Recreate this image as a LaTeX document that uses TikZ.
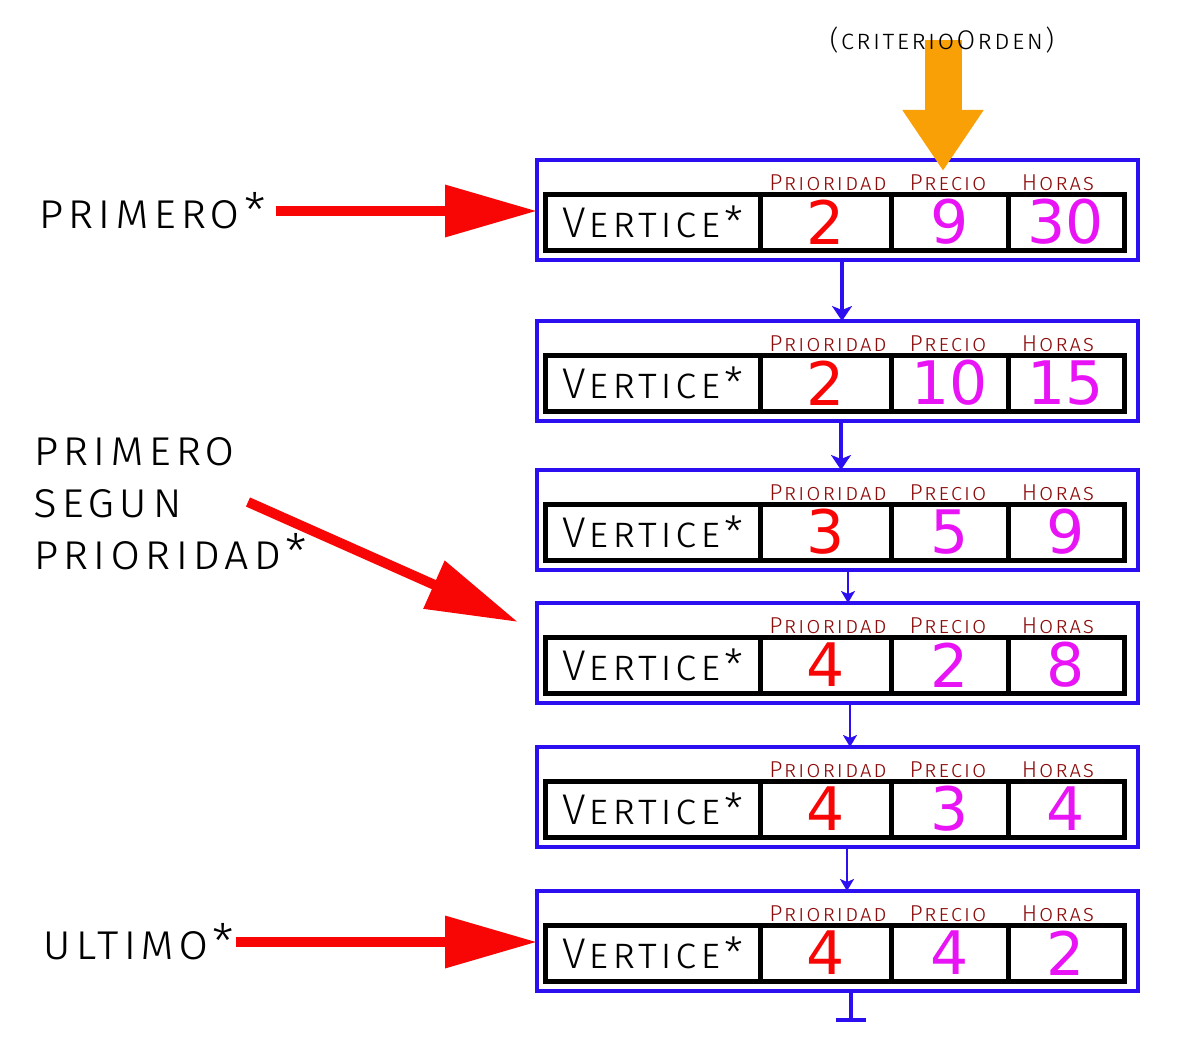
\documentclass[tikz,border=0pt]{standalone}
\usepackage{fontspec}
\newfontfamily\digf{DejaVu Sans}
\newfontfamily\scf{Fira Sans Light}[Letters=SmallCaps,LetterSpace=8]
\usetikzlibrary{arrows.meta}
\definecolor{qblue}{RGB}{43,15,240}
\definecolor{qred}{RGB}{248,5,5}
\definecolor{qmag}{RGB}{232,20,245}
\definecolor{qdred}{RGB}{140,12,12}
\definecolor{qorange}{RGB}{248,160,5}
\begin{document}
\begin{tikzpicture}[x=1pt,y=-1pt,
  outerbox/.style={draw=qblue,line width=4pt,minimum width=601pt,minimum height=100pt,inner sep=0pt,outer sep=0pt,anchor=north west},
  cellbox/.style={draw=black,line width=5pt,minimum height=56pt,inner sep=0pt,outer sep=0pt,anchor=north west},
  hdr/.style={text=qdred,font=\scf\fontsize{23}{23}\selectfont,anchor=base,inner sep=0pt},
  vert/.style={font=\scf\fontsize{43}{43}\selectfont},
  digr/.style={text=qred,font=\digf\fontsize{60}{60}\selectfont},
  digm/.style={text=qmag,font=\digf\fontsize{60}{60}\selectfont},
  lbl/.style={font=\scf\fontsize{49}{52}\selectfont,inner sep=0pt,anchor=west,align=left},
  conn/.style={draw=qblue,line width=3.5pt,-{Stealth[length=15pt,width=20pt,inset=4pt]}},
  connthin/.style={draw=qblue,line width=2.5pt,-{Stealth[length=12pt,width=14pt,inset=3pt]}},
  redarrow/.style={draw=qred,line width=10pt,-{Triangle[length=92pt,width=50pt]}},
]
\useasboundingbox (0,0) rectangle (1181,1062);

\foreach \i/\T/\a/\b/\c in {1/160/2/9/30, 2/321/2/10/15, 3/470/3/5/9, 4/603/4/2/8, 5/747/4/3/4, 6/891/4/4/2}{
  \node[outerbox] (b\i) at (537,\T) {};
  \node[cellbox,minimum width=215pt,vert] (v\i) at (545,{\T+34}) {Vertice*};
  \node[cellbox,minimum width=131pt,digr] (p\i) at (760,{\T+34}) {\a};
  \node[cellbox,minimum width=117pt,digm] (r\i) at (891,{\T+34}) {\b};
  \node[cellbox,minimum width=116pt,digm] (h\i) at (1008,{\T+34}) {\c};
  \node[hdr] (hp\i) at (828,{\T+30}) {Prioridad};
  \node[hdr] (hr\i) at (948,{\T+30}) {Precio};
  \node[hdr] (hh\i) at (1058,{\T+30}) {Horas};
}

% connectors between boxes
\draw[conn] ([xshift=4.5pt]b1.south) -- ([xshift=4.5pt]b2.north);
\draw[conn] ([xshift=3.5pt]b2.south) -- ([xshift=3.5pt]b3.north);
\draw[connthin] ([xshift=10.5pt]b3.south) -- ([xshift=10.5pt]b4.north);
\draw[connthin] ([xshift=12.5pt]b4.south) -- ([xshift=12.5pt]b5.north);
\draw[connthin] ([xshift=9.5pt]b5.south) -- ([xshift=9.5pt]b6.north);
\coordinate (tend) at (851,1022);
\draw[draw=qblue,line width=4pt,-{Bar[width=30pt]}] (b6.south -| tend) -- (tend);

% orange arrow
\coordinate (os) at (943,40);
\coordinate (oe) at (943,171);
\draw[draw=qorange,line width=37pt,-{Triangle[length=61pt,width=77pt]}] (os) -- (oe);
\node[font=\scf\fontsize{27}{27}\selectfont,inner sep=0pt] (crit) at (942,40) {(criterioOrden)};

% left labels
\node[lbl] (l1) at (38,211) {primero*};
\draw[redarrow] ([xshift=10pt]l1.east) -- (l1.east -| b1.west);

\node[lbl] (l2) at (33,504) {primero\\segun\\prioridad*};
\coordinate (s2) at (248,502);
\coordinate (t2) at (518,622);
\draw[redarrow] (s2) -- (t2);

\node[lbl] (l3) at (42,942) {ultimo*};
\draw[redarrow] ([xshift=2pt]l3.east) -- (l3.east -| b6.west);
\end{tikzpicture}
\end{document}
